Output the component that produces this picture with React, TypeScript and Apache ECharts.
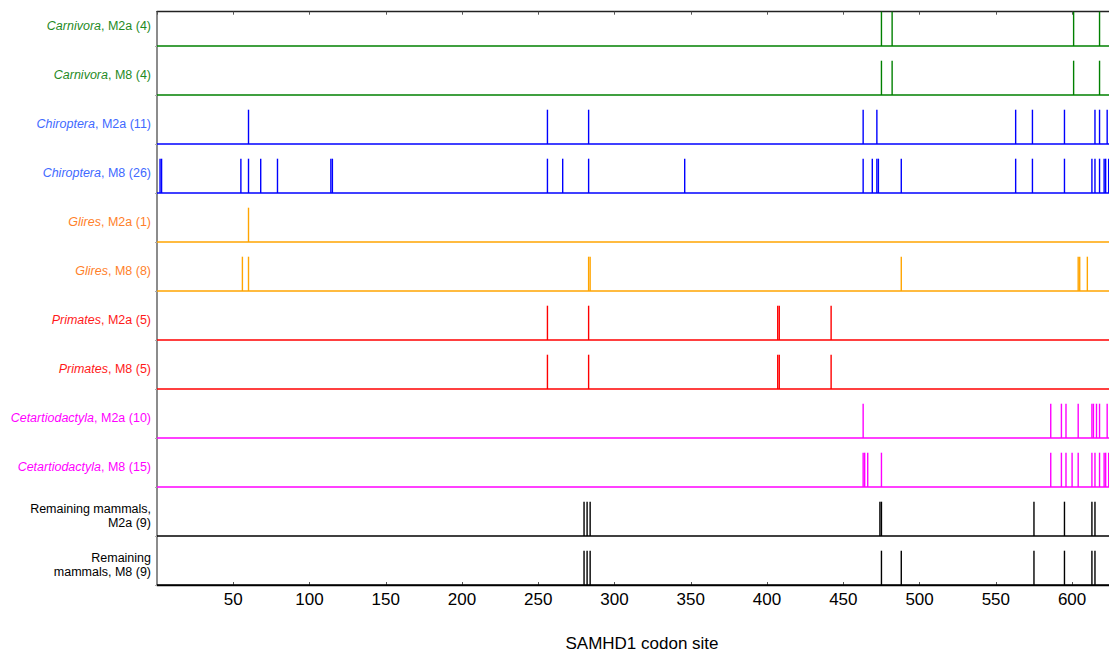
import React, { useEffect, useRef } from "react";
import * as echarts from "echarts";

// Row labels (top to bottom)
const rowGroups = [
  "Carnivora", "Carnivora", "Chiroptera", "Chiroptera", "Glires", "Glires",
  "Primates", "Primates", "Cetartiodactyla", "Cetartiodactyla", "", "",
];
const rowSuffixes = [
  ", M2a (4)", ", M8 (4)", ", M2a (11)", ", M8 (26)", ", M2a (1)", ", M8 (8)",
  ", M2a (5)", ", M8 (5)", ", M2a (10)", ", M8 (15)",
  "Remaining mammals,\nM2a (9)", "Remaining\nmammals, M8 (9)",
];
const rowKeys = ["carn", "carn", "chiro", "chiro", "glires", "glires", "prim", "prim", "cet", "cet", "rem", "rem"];

const labelColors: Record<string, string> = {
  carn: "#1f8a1f", chiro: "#4169ff", glires: "#ff7f2a", prim: "#ff1a1a", cet: "#ff00ff", rem: "#000000",
};
const lineColors: Record<string, string> = {
  carn: "#008000", chiro: "#0000ff", glires: "#ffa500", prim: "#ff0000", cet: "#ff00ff", rem: "#000000",
};

// Codon sites per row
const carnivoraM2a = [475, 482, 601, 618];
const carnivoraM8 = [475, 482, 601, 618];
const chiropteraM2a = [60, 256, 283, 463, 472, 563, 574, 595, 615, 618, 623];
const chiropteraM8 = [2, 3, 55, 60, 68, 79, 114, 115, 256, 266, 283, 346, 463, 469, 472, 473, 488, 563, 574, 595, 613, 615, 618, 621, 622, 624];
const gliresM2a = [60];
const gliresM8 = [56, 60, 283, 284, 488, 604, 605, 610];
const primatesM2a = [256, 283, 407, 408, 442];
const primatesM8 = [256, 283, 407, 408, 442];
const cetartiodactylaM2a = [463, 586, 593, 596, 604, 613, 614, 616, 618, 623];
const cetartiodactylaM8 = [463, 464, 466, 475, 586, 593, 596, 600, 604, 613, 615, 618, 621, 622, 624];
const remainingM2a = [280, 282, 284, 474, 475, 575, 595, 613, 615];
const remainingM8 = [280, 282, 284, 475, 488, 575, 595, 613, 615];

const rowSites = [
  carnivoraM2a, carnivoraM8, chiropteraM2a, chiropteraM8, gliresM2a, gliresM8,
  primatesM2a, primatesM8, cetartiodactylaM2a, cetartiodactylaM8, remainingM2a, remainingM8,
];

const xTicks = [50, 100, 150, 200, 250, 300, 350, 400, 450, 500, 550, 600];
const X_MIN = 0;
const X_MAX = 624.2;
const BAR_H = 0.7;
const FONT = "'Liberation Sans', Arial, sans-serif";

export default function App() {
  const ref = useRef<HTMLDivElement>(null);
  useEffect(() => {
    document.body.style.margin = "0";
    const chart = echarts.init(ref.current!, undefined, { renderer: "svg" });
    const nRows = rowSites.length;

    const rich: Record<string, any> = {};
    Object.keys(labelColors).forEach((k) => {
      rich[k + "i"] = { color: labelColors[k], fontStyle: "italic", fontSize: 12.5, fontFamily: FONT, lineHeight: 14 };
      rich[k] = { color: labelColors[k], fontSize: 12.5, fontFamily: FONT, lineHeight: 14, align: "right" };
    });

    const series: any[] = [];
    rowSites.forEach((sites, i) => {
      const base = nRows - 1 - i;
      const color = lineColors[rowKeys[i]];
      series.push({
        type: "line",
        data: [[X_MIN, base], [X_MAX, base]],
        symbol: "none",
        silent: true,
        lineStyle: { color, width: 1.3 },
        z: 2,
      });
      series.push({
        type: "custom",
        data: sites.map((s) => [s, base]),
        silent: true,
        clip: false,
        z: 3,
        renderItem: (params: any, api: any) => {
          const x = api.value(0);
          const b = api.value(1);
          const p0 = api.coord([x, b]);
          const p1 = api.coord([x, b + BAR_H]);
          return {
            type: "line",
            shape: { x1: p0[0], y1: p0[1], x2: p1[0], y2: p1[1] },
            style: { stroke: color, lineWidth: 1.4 },
          };
        },
      });
    });

    chart.setOption({
      animation: false,
      grid: { left: 157, right: 0, top: 11.7, bottom: 68, containLabel: false },
      xAxis: [
        {
          type: "value",
          min: X_MIN,
          max: X_MAX,
          interval: 50,
          position: "bottom",
          splitLine: { show: false },
          axisLine: { show: true, onZero: false, lineStyle: { color: "#000", width: 1.3 } },
          axisTick: { show: true, inside: true, length: 3, lineStyle: { color: "#555" } },
          axisLabel: {
            showMinLabel: false,
            showMaxLabel: false,
            margin: 6,
            fontSize: 17,
            fontFamily: FONT,
            color: "#000",
            formatter: (v: number) => (xTicks.includes(v) ? String(v) : ""),
          },
          name: "SAMHD1 codon site",
          nameLocation: "middle",
          nameGap: 50,
          nameTextStyle: { fontSize: 17, fontFamily: FONT, color: "#000", padding: [0, 0, 0, 18] },
        },
        {
          type: "value",
          min: X_MIN,
          max: X_MAX,
          interval: 50,
          position: "top",
          splitLine: { show: false },
          axisLine: { show: true, onZero: false, lineStyle: { color: "#222", width: 1.3 } },
          axisTick: { show: true, inside: true, length: 3, lineStyle: { color: "#555" } },
          axisLabel: { show: false },
        },
      ],
      yAxis: {
        type: "value",
        min: 0,
        max: nRows - 1 + BAR_H,
        interval: 1,
        splitLine: { show: false },
        axisLine: { show: true, onZero: false, lineStyle: { color: "#666", width: 1.5 } },
        axisTick: { show: true, length: 2, lineStyle: { color: "#aaa" } },
        axisLabel: {
          showMaxLabel: false,
          margin: 6,
          verticalAlign: "middle",
          padding: [0, 0, 40, 0],
          rich,
          formatter: (v: number) => {
            if (Math.abs(v - Math.round(v)) > 1e-6) return "";
            const i = nRows - 1 - Math.round(v);
            if (i < 0 || i >= nRows) return "";
            const k = rowKeys[i];
            if (rowGroups[i]) return `{${k}i|${rowGroups[i]}}{${k}|${rowSuffixes[i]}}`;
            return rowSuffixes[i].split("\n").map((s) => `{${k}|${s}}`).join("\n");
          },
        },
      },
      series,
    });
    return () => chart.dispose();
  }, []);
  return <div ref={ref} style={{ width: 1109, height: 657 }} />;
}
